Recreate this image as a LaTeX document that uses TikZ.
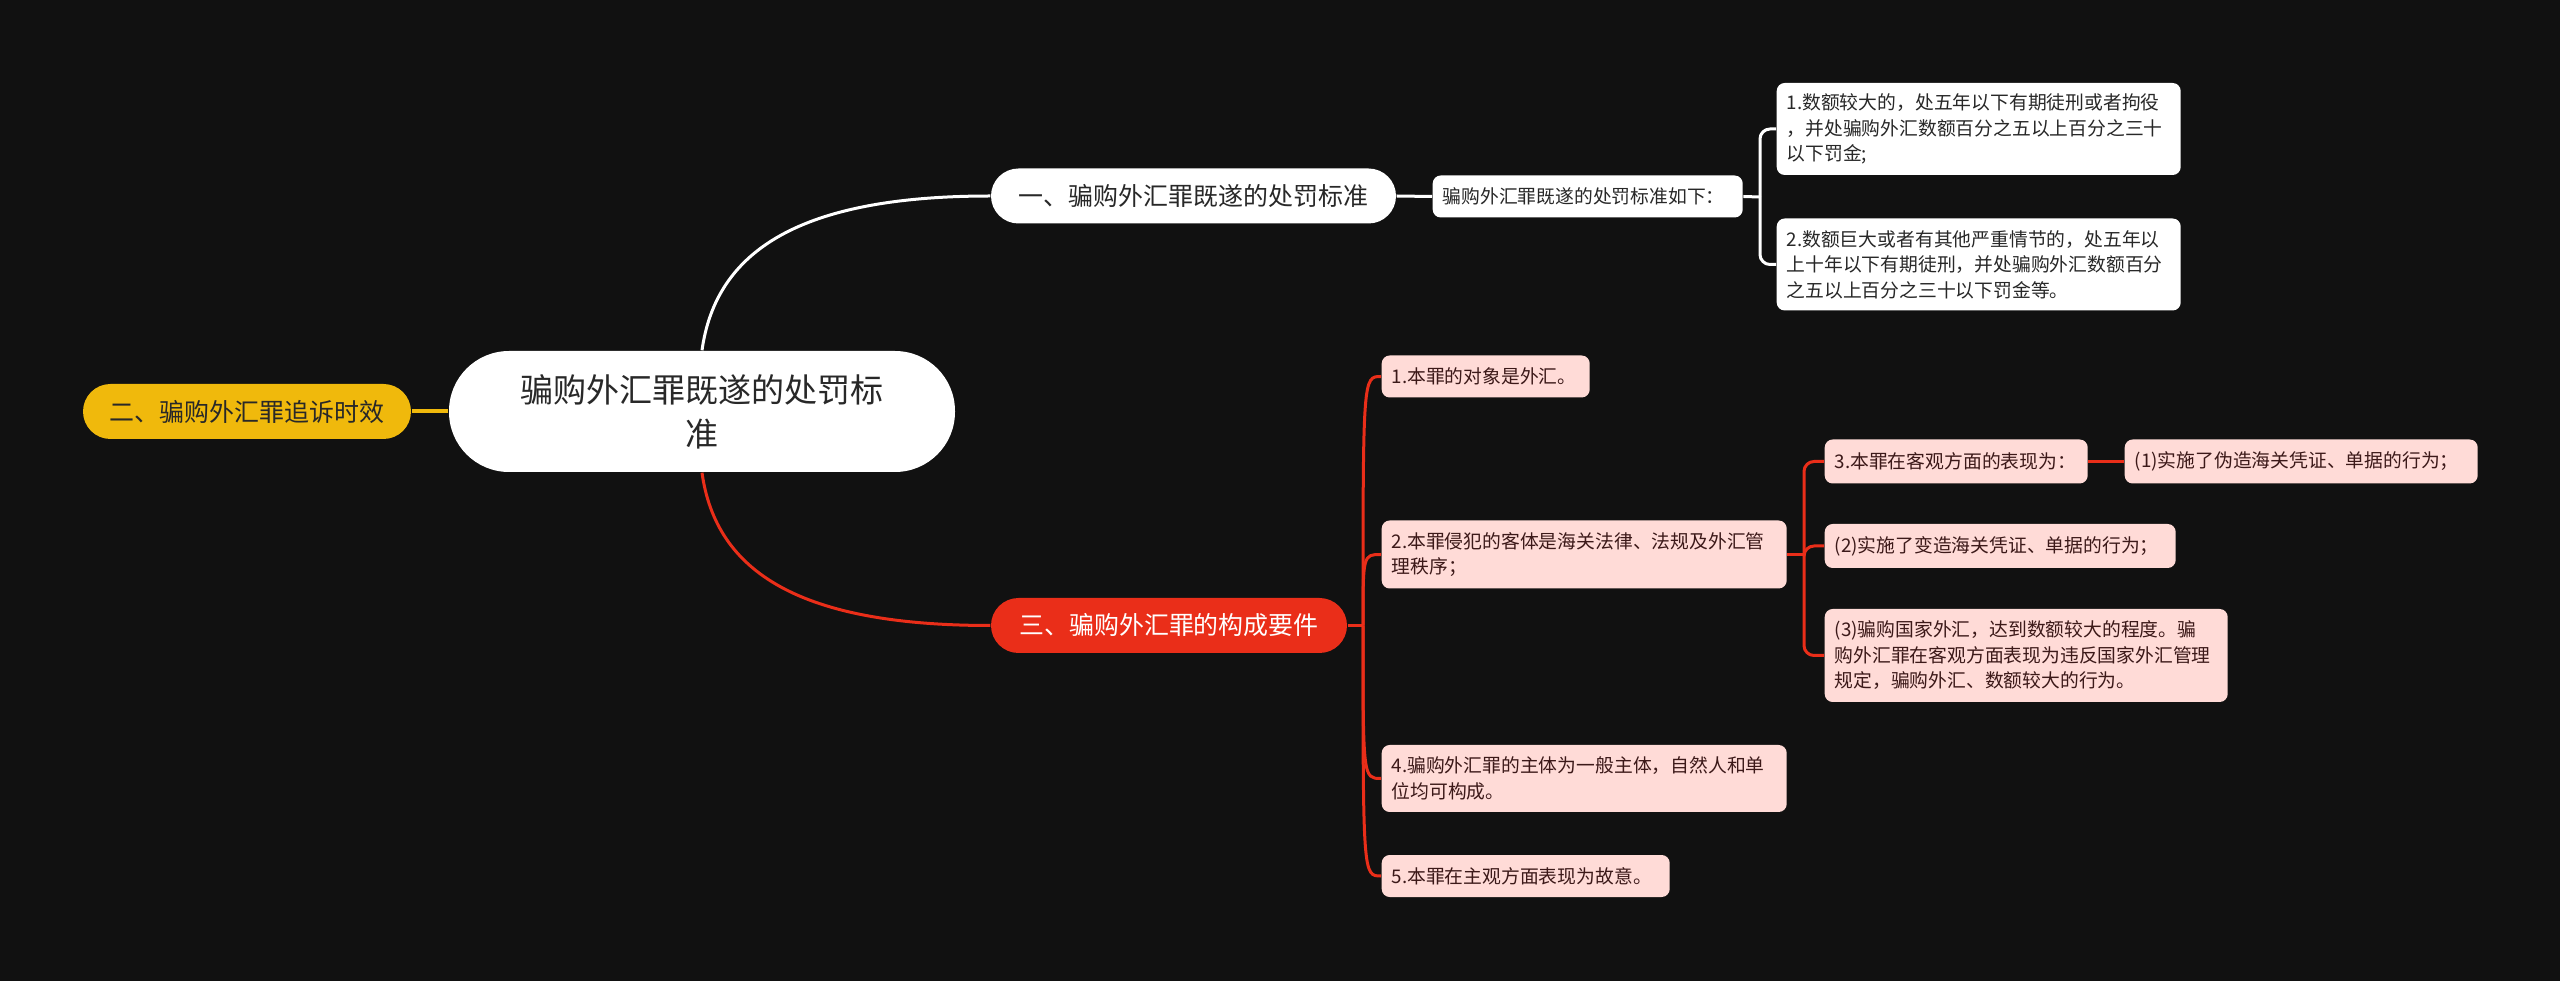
\documentclass[tikz,border=0pt]{standalone}
\usepackage{fontspec}
\setmainfont{Noto Sans CJK SC}
\usepackage{tikz}
\usetikzlibrary{calc}
\definecolor{bgC}{RGB}{17,17,17}
\definecolor{yelC}{RGB}{240,185,12}
\definecolor{redN}{RGB}{234,46,25}
\definecolor{pinkF}{RGB}{255,219,215}
\definecolor{pinkT}{RGB}{60,25,25}
\definecolor{darkT}{RGB}{40,40,40}

\begin{document}
\begin{tikzpicture}[x=0.1mm, y=-0.1mm,
  topic/.style={fill=white, text=darkT, rounded corners=6mm, minimum width=50.6mm,
                minimum height=12.1mm, inner sep=0pt, align=center,
                font=\fontsize{9.4}{12.5}\selectfont},
  branch/.style={rounded corners=2.75mm, minimum height=5.5mm, inner sep=0pt,
                 font=\fontsize{7.1}{9}\selectfont},
  leaf/.style={fill=pinkF, text=pinkT, rounded corners=0.8mm, inner xsep=1mm,
               inner ysep=0pt, align=left, anchor=west,
               font=\fontsize{5.35}{7.25}\selectfont},
  wleaf/.style={leaf, fill=white, text=darkT},
  wline/.style={draw=white, line width=0.3mm},
  rline/.style={draw=redN, line width=0.3mm},
  yline/.style={draw=yelC, line width=0.4mm}]
  \fill[bgC] (0,0) rectangle (2560,981);
  \useasboundingbox (0,0) rectangle (2560,981);

  % central topic and main branches
  \node[topic] (root) at (702,411.5) {骗购外汇罪既遂的处罚标\\准};
  \node[branch, fill=yelC, text=darkT, minimum width=32.8mm] (yel) at (247,411.5) {二、骗购外汇罪追诉时效};
  \node[branch, fill=white, text=darkT, minimum width=40.5mm] (one) at (1193.5,196) {一、骗购外汇罪既遂的处罚标准};
  \node[branch, fill=redN, text=white, minimum width=35.6mm] (three) at (1169,625.5) {三、骗购外汇罪的构成要件};

  % branch one
  \node[wleaf, text width=29mm, minimum height=4.2mm] (sub0) at (1432,196.5) {骗购外汇罪既遂的处罚标准如下：};
  \node[wleaf, text width=38.4mm, minimum height=9.2mm] (a1) at (1776,129)
    {1.数额较大的，处五年以下有期徒刑或者拘役\\，并处骗购外汇数额百分之五以上百分之三十\\以下罚金;};
  \node[wleaf, text width=38.4mm, minimum height=9.2mm] (a2) at (1776,264.5)
    {2.数额巨大或者有其他严重情节的，处五年以\\上十年以下有期徒刑，并处骗购外汇数额百分\\之五以上百分之三十以下罚金等。};

  % branch three
  \node[leaf, text width=18.8mm, minimum height=4.2mm] (b1) at (1381,376.5) {1.本罪的对象是外汇。};
  \node[leaf, text width=38.5mm, minimum height=6.8mm] (b2) at (1381,554.5)
    {2.本罪侵犯的客体是海关法律、法规及外汇管\\理秩序；};
  \node[leaf, text width=24.3mm, minimum height=4.4mm] (b3) at (1824,461.5) {3.本罪在客观方面的表现为：};
  \node[leaf, text width=33.3mm, minimum height=4.4mm] (c1) at (2124,461.5) {(1)实施了伪造海关凭证、单据的行为；};
  \node[leaf, text width=33.1mm, minimum height=4.4mm] (c2) at (1824,546) {(2)实施了变造海关凭证、单据的行为；};
  \node[leaf, text width=38.3mm, minimum height=9.3mm] (c3) at (1824,655.5)
    {(3)骗购国家外汇，达到数额较大的程度。骗\\购外汇罪在客观方面表现为违反国家外汇管理\\规定，骗购外汇、数额较大的行为。};
  \node[leaf, text width=38.5mm, minimum height=6.7mm] (b4) at (1381,778.5)
    {4.骗购外汇罪的主体为一般主体，自然人和单\\位均可构成。};
  \node[leaf, text width=26.8mm, minimum height=4.2mm] (b5) at (1381,876) {5.本罪在主观方面表现为故意。};

  \coordinate (jw) at (1760,197);
  \coordinate (jr) at (1363,625.5);
  \coordinate (jb) at (1804,554.5);

  % connectors
  \draw[yline] (root.west) -- (yel.east);
  \draw[wline] (root.north) .. controls +(14,-100) and +(-190,0) .. (one.west);
  \draw[rline] (root.south) .. controls +(14,100) and +(-190,0) .. (three.west);
  \draw[wline] (one.east) -- (sub0.west);
  \draw[wline] (sub0.east) -- (jw);
  \draw[wline, rounded corners=1mm] (jw) |- (a1.west);
  \draw[wline, rounded corners=1mm] (jw) |- (a2.west);
  \draw[rline] (three.east) -- (jr);
  \foreach \n in {b1,b2,b4,b5}
    \draw[rline] (jr) .. controls (jr |- \n.west) .. (\n.west);
  \draw[rline] (b2.east) -- (jb);
  \foreach \n in {b3,c2,c3}
    \draw[rline, rounded corners=1mm] (jb) |- (\n.west);
  \draw[rline] (b3.east) -- (c1.west);
\end{tikzpicture}
\end{document}
